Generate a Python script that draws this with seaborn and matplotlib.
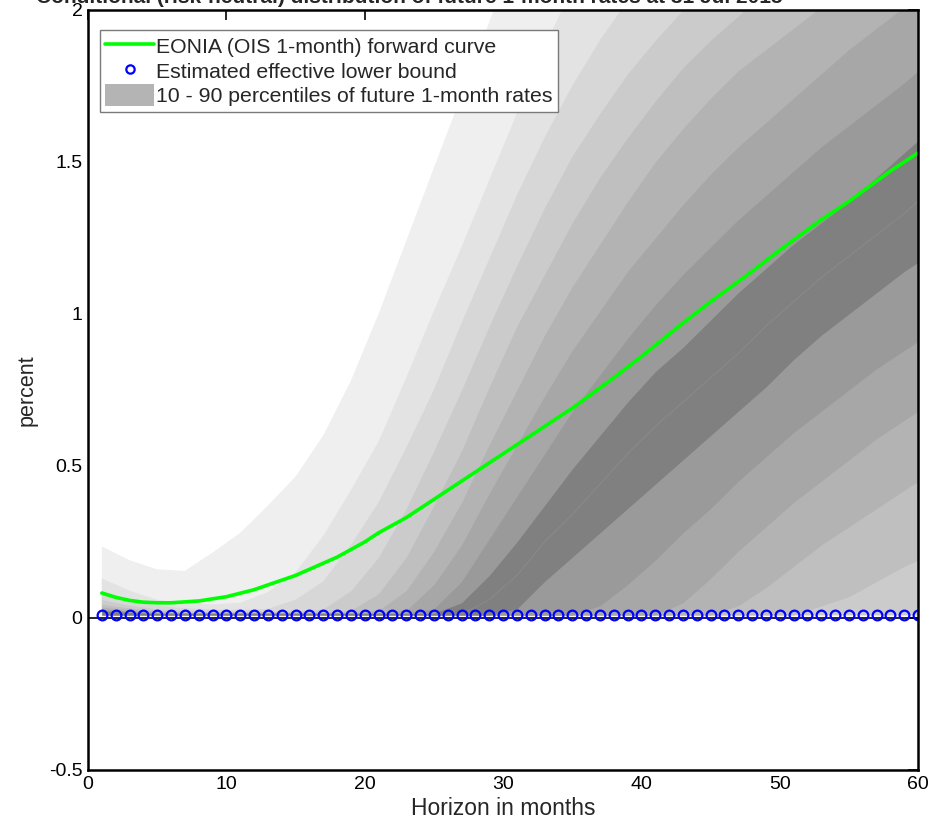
import matplotlib
matplotlib.use("Agg")
import matplotlib.pyplot as plt
from matplotlib.lines import Line2D
from matplotlib.patches import Patch
import seaborn as sns
import pandas as pd

# ---------------- data ----------------
horizon = [1, 3, 5, 7, 9, 11, 13, 15, 17, 19, 21, 23, 25, 27, 29, 31,
           33, 35, 37, 39, 41, 43, 45, 47, 49, 51, 53, 55, 57, 59, 60]

# upper percentile boundaries (inner -> outer)
hi0 = [0.022, 0.018, 0.015, 0.015, 0.015, 0.015, 0.015, 0.015, 0.015, 0.015, 0.015, 0.015, 0.015, 0.05, 0.14, 0.25,
       0.37, 0.49, 0.60, 0.71, 0.81, 0.89, 0.98, 1.07, 1.15, 1.23, 1.30, 1.37, 1.45, 1.53, 1.57]
hi1 = [0.026, 0.020, 0.016, 0.016, 0.016, 0.016, 0.016, 0.016, 0.016, 0.016, 0.016, 0.016, 0.03, 0.12, 0.26, 0.40,
       0.54, 0.68, 0.80, 0.92, 1.03, 1.13, 1.22, 1.31, 1.39, 1.47, 1.55, 1.62, 1.69, 1.76, 1.80]
hi2 = [0.030, 0.023, 0.018, 0.017, 0.017, 0.017, 0.017, 0.017, 0.017, 0.017, 0.017, 0.025, 0.11, 0.24, 0.41, 0.57,
       0.73, 0.88, 1.01, 1.14, 1.25, 1.36, 1.46, 1.55, 1.63, 1.71, 1.79, 1.87, 1.94, 2.01, 2.04]
hi3 = [0.036, 0.027, 0.020, 0.018, 0.018, 0.018, 0.018, 0.018, 0.018, 0.018, 0.025, 0.09, 0.22, 0.38, 0.57, 0.75,
       0.93, 1.09, 1.23, 1.37, 1.50, 1.61, 1.71, 1.80, 1.87, 1.94, 2.01, 2.08, 2.15, 2.22, 2.25]
hi4 = [0.045, 0.033, 0.024, 0.020, 0.020, 0.020, 0.020, 0.020, 0.020, 0.025, 0.08, 0.20, 0.37, 0.55, 0.76, 0.96,
       1.13, 1.30, 1.45, 1.58, 1.70, 1.81, 1.90, 1.98, 2.06, 2.14, 2.22, 2.30, 2.38, 2.46, 2.50]
hi5 = [0.060, 0.042, 0.030, 0.025, 0.022, 0.022, 0.022, 0.022, 0.03, 0.09, 0.20, 0.36, 0.55, 0.75, 0.96, 1.16,
       1.35, 1.52, 1.66, 1.79, 1.90, 2.00, 2.10, 2.19, 2.27, 2.35, 2.43, 2.51, 2.59, 2.67, 2.70]
hi6 = [0.090, 0.060, 0.040, 0.032, 0.028, 0.027, 0.030, 0.06, 0.12, 0.24, 0.38, 0.56, 0.75, 0.97, 1.18, 1.39,
       1.58, 1.75, 1.90, 2.03, 2.15, 2.25, 2.35, 2.44, 2.53, 2.61, 2.69, 2.77, 2.85, 2.93, 2.97]
hi7 = [0.13, 0.09, 0.06, 0.048, 0.045, 0.05, 0.085, 0.15, 0.27, 0.42, 0.58, 0.79, 1.01, 1.22, 1.44, 1.66,
       1.88, 2.07, 2.22, 2.35, 2.46, 2.56, 2.66, 2.75, 2.84, 2.92, 3.00, 3.08, 3.16, 3.24, 3.28]
hi8 = [0.235, 0.19, 0.16, 0.155, 0.215, 0.28, 0.37, 0.465, 0.60, 0.78, 1.00, 1.24, 1.48, 1.72, 1.96, 2.20,
       2.40, 2.55, 2.68, 2.78, 2.88, 2.97, 3.05, 3.13, 3.21, 3.29, 3.37, 3.45, 3.53, 3.61, 3.65]

# lower percentile boundaries (inner -> outer); beyond lo4 the lower tail sits at the bound
lo0 = [0.01, 0.01, 0.01, 0.01, 0.01, 0.01, 0.01, 0.01, 0.01, 0.01, 0.01, 0.01, 0.01, 0.01, 0.01, 0.03,
       0.12, 0.20, 0.28, 0.36, 0.44, 0.52, 0.60, 0.68, 0.76, 0.85, 0.93, 1.00, 1.07, 1.14, 1.17]
lo1 = [0.01, 0.01, 0.01, 0.01, 0.01, 0.01, 0.01, 0.01, 0.01, 0.01, 0.01, 0.01, 0.01, 0.01, 0.01, 0.01,
       0.01, 0.01, 0.04, 0.11, 0.19, 0.28, 0.36, 0.45, 0.53, 0.61, 0.68, 0.75, 0.82, 0.88, 0.91]
lo2 = [0.01, 0.01, 0.01, 0.01, 0.01, 0.01, 0.01, 0.01, 0.01, 0.01, 0.01, 0.01, 0.01, 0.01, 0.01, 0.01,
       0.01, 0.01, 0.01, 0.01, 0.01, 0.05, 0.13, 0.22, 0.30, 0.38, 0.45, 0.52, 0.59, 0.65, 0.68]
lo3 = [0.01, 0.01, 0.01, 0.01, 0.01, 0.01, 0.01, 0.01, 0.01, 0.01, 0.01, 0.01, 0.01, 0.01, 0.01, 0.01,
       0.01, 0.01, 0.01, 0.01, 0.01, 0.01, 0.01, 0.04, 0.10, 0.17, 0.24, 0.30, 0.36, 0.42, 0.45]
lo4 = [0.01, 0.01, 0.01, 0.01, 0.01, 0.01, 0.01, 0.01, 0.01, 0.01, 0.01, 0.01, 0.01, 0.01, 0.01, 0.01,
       0.01, 0.01, 0.01, 0.01, 0.01, 0.01, 0.01, 0.01, 0.01, 0.01, 0.04, 0.07, 0.12, 0.17, 0.19]
lower_bound = [0.01] * len(horizon)

median_h = [27, 29, 31, 33, 35, 37, 39, 41, 43, 45, 47, 49, 51, 53, 55, 57, 59, 60]
median_v = [0.012, 0.06, 0.14, 0.25, 0.34, 0.44, 0.54, 0.63, 0.71, 0.79, 0.87, 0.96,
            1.04, 1.12, 1.19, 1.26, 1.33, 1.37]

fwd_h = [1, 2, 3, 4, 5, 6, 8, 10, 12, 15, 18, 20, 21, 23, 25, 28, 30, 33, 35, 38,
         40, 43, 45, 48, 50, 53, 55, 58, 60]
fwd_v = [0.082, 0.068, 0.058, 0.052, 0.05, 0.05, 0.056, 0.07, 0.093, 0.14, 0.2, 0.25, 0.28,
         0.33, 0.39, 0.48, 0.54, 0.63, 0.69, 0.79, 0.86, 0.97, 1.04, 1.14, 1.21, 1.31,
         1.37, 1.47, 1.53]

elb_months = list(range(1, 61))
elb_value = 0.01

band_colors = ['#808080', '#9a9a9a', '#a7a7a7', '#b3b3b3', '#bfbfbf',
               '#cbcbcb', '#d7d7d7', '#e3e3e3', '#efefef']

# ---------------- plot ----------------
sns.set_theme(style="white")
plt.rcParams['font.family'] = ['Liberation Sans', 'DejaVu Sans']

fig = plt.figure(figsize=(9.31, 8.36), dpi=100)
ax = fig.add_axes([88 / 931, 1 - 770 / 836, 830 / 931, 760 / 836])

uppers = [hi0, hi1, hi2, hi3, hi4, hi5, hi6, hi7, hi8]
lowers = [lo0, lo1, lo2, lo3, lo4, lower_bound, lower_bound, lower_bound, lower_bound]
for k in range(8, -1, -1):
    ax.fill_between(horizon, lowers[k], uppers[k], color=band_colors[k],
                    linewidth=0, zorder=1)

sns.lineplot(x=median_h, y=median_v, ax=ax, color='#8c8c8c', linewidth=0.6, zorder=2)
ax.axhline(0, color='black', linewidth=1.2, zorder=2)
sns.lineplot(x=fwd_h, y=fwd_v, ax=ax, color='#00ff00', linewidth=2.6, zorder=4)
elb_df = pd.DataFrame({'h': elb_months, 'v': [elb_value] * len(elb_months)})
ax.plot(elb_df['h'], elb_df['v'], linestyle='none', marker='o', markersize=7,
        markerfacecolor='none', markeredgecolor='#0000ff', markeredgewidth=1.6, zorder=5)

ax.set_xlim(0, 60)
ax.set_ylim(-0.5, 2)
ax.set_xticks([0, 10, 20, 30, 40, 50, 60])
ax.set_yticks([-0.5, 0, 0.5, 1, 1.5, 2])
ax.set_yticklabels(['-0.5', '0', '0.5', '1', '1.5', '2'])
ax.tick_params(direction='in', length=7, width=1.2, top=True, right=True,
               labelsize=14, colors='black', pad=4)
for s in ax.spines.values():
    s.set_color('black')
    s.set_linewidth(1.8)
    s.set_zorder(6)
ax.set_xlabel('Horizon in months', fontsize=16.5, labelpad=3)
ax.set_ylabel('percent', fontsize=15.5, labelpad=8)

handles = [Line2D([], [], color='#00ff00', linewidth=2.6),
           Line2D([], [], linestyle='none', marker='o', markersize=6,
                  markerfacecolor='none', markeredgecolor='#0000ff', markeredgewidth=1.6),
           Patch(facecolor='#b4b4b4', edgecolor='none')]
labels = ['EONIA (OIS 1-month) forward curve', 'Estimated effective lower bound',
          '10 - 90 percentiles of future 1-month rates']
leg = ax.legend(handles, labels, loc='upper left', bbox_to_anchor=(0.0145, 0.974),
                borderaxespad=0, fontsize=15.3, frameon=True, fancybox=False,
                handlelength=2.3, handleheight=1.2, handletextpad=0.1,
                labelspacing=0.12, borderpad=0.25, numpoints=1)
leg.get_frame().set_edgecolor('#7a7a7a')
leg.get_frame().set_linewidth(1.0)
leg.get_frame().set_alpha(1)
leg.set_zorder(10)

fig.text(36 / 931, 1 - 3 / 836,
         'Conditional (risk-neutral) distribution of future 1-month rates at 31 Jul 2015',
         fontsize=15, fontweight='bold', va='baseline', ha='left')

fig.savefig('out.png', dpi=100)
